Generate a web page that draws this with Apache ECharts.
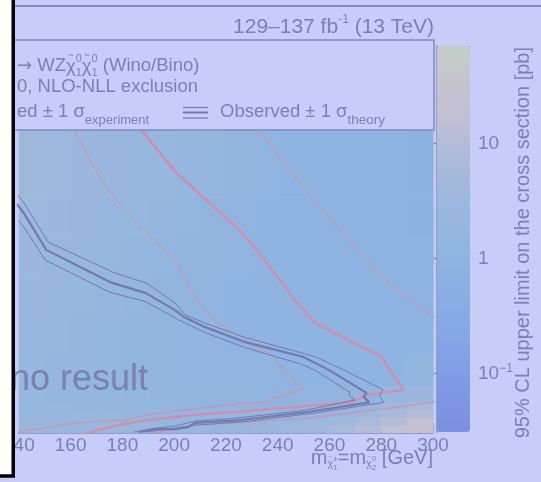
<!DOCTYPE html>
<html>
<head>
<meta charset="utf-8">
<script src="https://cdn.jsdelivr.net/npm/echarts@6/dist/echarts.min.js"></script>
<style>
  html, body { margin: 0; padding: 0; background: #c7cdf8; }
  #chart { width: 541px; height: 482px; }
</style>
</head>
<body>
<div id="chart"></div>
<script>
// Chargino–neutralino mass plane: limit map, exclusion contours and colour scale.
const massEdges = [140, 150, 160, 170, 180, 190, 200, 210, 220, 230, 240, 250, 260, 270, 280, 290, 300];
const dmEdges = [0, 1, 2, 3, 4, 6, 10, 15, 20, 25, 30, 40, 50];

// 95% CL upper limit [pb], one row per Δm band (bottom to top), one column per mass bin
const limitRows = [
  [2.8, 2.8, 2.7, 2.6, 2.5, 2.4, 2.4, 2.4, 2.5, 2.8, 3.3, 4.3, 6.5, 11, 19, 34],
  [2.5, 2.4, 2.3, 2.2, 2.0, 1.9, 1.8, 1.8, 1.9, 2.0, 2.3, 3.0, 4.0, 6.5, 11, 20],
  [2.2, 2.1, 2.0, 1.9, 1.8, 1.7, 1.6, 1.6, 1.6, 1.6, 1.7, 1.9, 2.4, 3.6, 6.0, 11],
  [2.0, 1.9, 1.8, 1.7, 1.6, 1.5, 1.4, 1.4, 1.4, 1.4, 1.4, 1.5, 1.7, 2.2, 3.4, 6.0],
  [1.9, 1.8, 1.7, 1.6, 1.5, 1.4, 1.3, 1.3, 1.3, 1.25, 1.25, 1.25, 1.3, 1.5, 1.9, 2.8],
  [1.9, 1.7, 1.6, 1.5, 1.4, 1.3, 1.25, 1.2, 1.2, 1.2, 1.15, 1.1, 1.1, 1.1, 1.15, 1.3],
  [2.1, 1.9, 1.7, 1.5, 1.4, 1.3, 1.25, 1.2, 1.15, 1.1, 1.1, 1.05, 1.0, 1.0, 1.0, 1.0],
  [2.4, 2.1, 1.9, 1.7, 1.5, 1.4, 1.3, 1.2, 1.15, 1.1, 1.05, 1.0, 0.95, 0.92, 0.9, 0.9],
  [2.8, 2.4, 2.1, 1.9, 1.7, 1.5, 1.4, 1.3, 1.2, 1.15, 1.05, 1.0, 0.95, 0.9, 0.87, 0.85],
  [3.2, 2.8, 2.4, 2.1, 1.9, 1.7, 1.5, 1.35, 1.25, 1.15, 1.1, 1.0, 0.95, 0.9, 0.85, 0.82],
  [3.6, 3.2, 2.8, 2.4, 2.1, 1.9, 1.7, 1.5, 1.35, 1.2, 1.1, 1.0, 0.95, 0.9, 0.85, 0.8],
  [3.8, 3.4, 3.0, 2.6, 2.3, 2.0, 1.8, 1.6, 1.4, 1.25, 1.15, 1.05, 1.0, 0.95, 0.9, 0.85]
];

// Expected exclusion (central and ±1σ experiment), [m, Δm]
const expCentral = [[178.2, 42.4], [188.0, 38.3], [200.5, 33.2], [224.3, 26.1], [231.9, 23.3], [246.7, 16.9],
  [254.6, 14.0], [280.0, 9.7], [288.7, 5.5], [273.6, 4.8], [268.7, 3.9], [245.9, 3.3], [224.3, 2.7],
  [208.1, 2.3], [190.3, 1.65], [180.5, 1.15], [170.3, 0.38], [166.4, 0]];
const expInner = [[154.8, 42.4], [161.5, 38.5], [169.5, 33.5], [176.7, 30.0], [189.1, 25.6], [191.8, 24.6],
  [200.5, 22.0], [209.2, 16.7], [216.8, 14.0], [238.3, 9.8], [242.2, 8.0], [249.7, 5.6], [234.5, 3.9],
  [224.3, 3.7], [208.1, 3.05], [190.3, 2.4], [181.6, 1.65], [161.5, 1.3], [152.4, 0.76], [140.0, 0.25]];
const expOuter = [[223.6, 42.4], [232.7, 38.5], [250.9, 30.8], [267.5, 24.6], [282.6, 19.2], [300.0, 14.8],
  [302.5, 14.1], null, [302.5, 4.2], [300.0, 3.9], [271.3, 2.7], [252.3, 1.9], [224.3, 1.3], [208.1, 1.0],
  [196.7, 0.25], [192.0, 0]];

// Observed exclusion (central and ±1σ theory), [m, Δm]
const obsCentral = [[138.1, 29.6], [141.9, 28.0], [150.6, 23.3], [175.2, 19.2], [189.1, 17.8], [200.5, 15.6],
  [203.6, 14.8], [211.8, 13.5], [227.0, 11.6], [249.7, 9.7], [259.9, 8.0], [274.3, 5.1], [273.2, 4.6],
  [275.4, 3.9], [252.3, 2.7], [225.9, 1.65], [208.1, 1.3], [205.5, 0.76], [200.5, 0.5], [192.9, 0.5], [186.5, 0.13]];
const obsUp = [[138.1, 30.9], [141.9, 29.3], [151.3, 24.3], [176.7, 20.4], [189.1, 19.1], [200.5, 16.5],
  [204.3, 15.0], [211.8, 14.0], [227.0, 12.2], [254.6, 9.7], [265.6, 8.0], [280.7, 5.5], [279.2, 4.8],
  [281.1, 3.9], [253.5, 2.5], [225.9, 1.4], [208.1, 1.0], [200.5, 0.64], [189.1, 0.13]];
const obsDown = [[138.1, 27.7], [141.9, 26.2], [150.2, 22.0], [175.2, 17.9], [189.1, 16.7], [201.7, 14.4],
  [211.8, 12.8], [227.0, 10.9], [249.7, 8.7], [254.3, 8.0], [267.9, 5.2], [267.5, 4.8], [269.8, 4.2],
  [250.9, 2.9], [224.3, 1.9], [208.1, 1.5], [200.5, 0.9], [192.9, 0.64], [184.6, 0.13]];

// Colour-scale ticks [pb]
const scaleMin = 0.031, scaleMax = 70;
const scaleMajor = [0.1, 1, 10];
const scaleMinor = [0.04, 0.05, 0.06, 0.07, 0.08, 0.09, 0.2, 0.3, 0.4, 0.5, 0.6, 0.7, 0.8, 0.9,
  2, 3, 4, 5, 6, 7, 8, 9, 20, 30, 40, 50, 60, 70];
const xTicks = [140, 300, 20];

const INK = '#7b80b2';
const AXIS = '#8189bb';
const OBS = '#727ab0';
const EXP = '#d98aa8';
const FONT = 'Liberation Sans';
const palette = ['#7b8fe0', '#7e98e4', '#82a0e6', '#86a8e5', '#8aaee3', '#8fb4e1',
  '#97b7de', '#a0b8db', '#b0bbd9', '#c1bfd4', '#c6c3ce', '#c3cdc6'];

const cells = [];
limitRows.forEach((row, i) => {
  row.forEach((v, j) => {
    cells.push([massEdges[j], massEdges[j + 1], dmEdges[i], dmEdges[i + 1], Math.log10(v)]);
  });
});

const measureCtx = document.createElement('canvas').getContext('2d');
function textW(t, s, f) { measureCtx.font = s + 'px "' + (f || FONT) + '"'; return measureCtx.measureText(t).width; }
// parts: [text, size, dy, advances, dx, family]
function textRun(x0, yc, parts, alignRight, z) {
  let total = 0;
  parts.forEach(p => { if (p[3] !== false) total += textW(p[0], p[1], p[5]); });
  let x = alignRight ? x0 - total : x0;
  const out = [];
  parts.forEach(p => {
    out.push({
      type: 'text', x: x + (p[4] || 0), y: yc + (p[2] || 0), z: z || 120, silent: true,
      style: { text: p[0], fontSize: p[1], fontFamily: p[5] || FONT, fill: INK,
        textAlign: 'left', textVerticalAlign: 'middle', align: 'left', verticalAlign: 'middle' }
    });
    if (p[3] !== false) x += textW(p[0], p[1], p[5]);
  });
  return out;
}
function chiParts(size, sup, sub, subSize) {
  const cw = textW('χ', size);
  const tw = textW('~', size * 0.6);
  return [['χ', size, 1], ['~', size * 0.6, -size * 0.55, false, -cw + (cw - tw) / 2],
    [sup, subSize, -size * 0.38, false], [sub, subSize, size * 0.4]];
}

function lineSeries(data, color, width) {
  return { type: 'line', data: data, xAxisIndex: 0, yAxisIndex: 0, showSymbol: false, symbol: 'none',
    silent: true, animation: false, connectNulls: false, z: 5,
    lineStyle: { color: color, width: width } };
}

const chart = echarts.init(document.getElementById('chart'), null, { renderer: 'canvas' });

const graphics = [];
// top rule and frame of the legend box
graphics.push({ type: 'line', z: 110, silent: true, shape: { x1: 0, y1: 6, x2: 541, y2: 6 }, style: { stroke: AXIS, lineWidth: 2 } });
graphics.push({ type: 'rect', z: 110, silent: true, shape: { x: 0, y: 40, width: 434, height: 90 }, style: { fill: '#c7cdf8', stroke: AXIS, lineWidth: 1.5 } });
// luminosity label
textRun(434, 27, [['129–137 fb', 21, 0], ['-1', 12, -7], [' (13 TeV)', 21, 0]], true).forEach(e => graphics.push(e));
// legend lines
textRun(17, 66, [['→', 18, 0, true, 0, 'DejaVu Sans'], [' WZ', 18.5, 0]].concat(chiParts(18.5, '0', '1', 11), chiParts(18.5, '0', '1', 11), [[' (Wino/Bino)', 18.5, 0]])).forEach(e => graphics.push(e));
textRun(17, 87, [['0, NLO-NLL exclusion', 18.5, 0]]).forEach(e => graphics.push(e));
textRun(17, 112, [['ed ± 1 σ', 18.5, 0], ['experiment', 13, 8]]).forEach(e => graphics.push(e));
textRun(220, 112, [['Observed ± 1 σ', 18.5, 0], ['theory', 13.5, 8]]).forEach(e => graphics.push(e));
[[107.5, 1.2], [112.5, 2], [118, 1.2]].forEach(l => graphics.push({ type: 'line', z: 120, silent: true,
  shape: { x1: 183, y1: l[0], x2: 208, y2: l[0] }, style: { stroke: OBS, lineWidth: l[1] } }));
// region note
graphics.push({ type: 'text', z: 60, silent: true, x: 10, y: 380,
  style: { text: 'no result', fontSize: 36, fontFamily: FONT, fill: INK, textAlign: 'left', textVerticalAlign: 'middle', align: 'left', verticalAlign: 'middle' } });
// x-axis title
textRun(433, 458, [['m', 20, 0]].concat(chiParts(11, '±', '1', 8).map(p => [p[0], p[1], p[2] + 5, p[3], p[4]]),
  [['=m', 20, 0]], chiParts(11, '0', '2', 8).map(p => [p[0], p[1], p[2] + 5, p[3], p[4]]), [[' [GeV]', 20, 0]]), true).forEach(e => graphics.push(e));
// colour-scale title
graphics.push({ type: 'text', z: 120, silent: true, x: 523, y: 47, rotation: Math.PI / 2,
  style: { text: '95% CL upper limit on the cross section [pb]', fontSize: 20, fontFamily: FONT, fill: INK,
    textAlign: 'right', textVerticalAlign: 'middle', align: 'right', verticalAlign: 'middle' } });
// panel cut-off
graphics.push({ type: 'rect', z: 300, silent: true, shape: { x: -20, y: -20, width: 33.25, height: 496 },
  style: { fill: '#ffffff', stroke: '#000000', lineWidth: 3.5 } });

const lg = v => Math.log10(v);

chart.setOption({
  animation: false,
  backgroundColor: '#c7cdf8',
  grid: [
    { left: 10, right: 108, top: 40, bottom: 49, containLabel: false },
    { left: 437, top: 46, width: 33, height: 386, containLabel: false }
  ],
  xAxis: [
    { type: 'value', gridIndex: 0, min: xTicks[0], max: xTicks[1], interval: xTicks[2],
      axisLine: { lineStyle: { color: AXIS, width: 1.5 } },
      axisTick: { inside: true, length: 10, lineStyle: { color: AXIS, width: 1.2 } },
      minorTick: { show: true, splitNumber: 4, length: 5, lineStyle: { color: AXIS, width: 1 } },
      axisLabel: { fontSize: 19, fontFamily: FONT, color: INK, margin: 3 },
      splitLine: { show: false } },
    { type: 'value', gridIndex: 1, min: 0, max: 1, show: false }
  ],
  yAxis: [
    { type: 'value', gridIndex: 0, min: 0, max: 50, show: false },
    { type: 'value', gridIndex: 1, min: lg(scaleMin), max: lg(scaleMax), position: 'right',
      axisLine: { show: true, lineStyle: { color: AXIS, width: 1.5 } },
      axisTick: { show: true, inside: true, length: 15, customValues: scaleMajor.map(lg), lineStyle: { color: AXIS, width: 1.2 } },
      axisLabel: { show: true, customValues: scaleMajor.map(lg), margin: 8, fontFamily: FONT, color: INK,
        formatter: v => { const p = Math.round(v); return p === 0 ? '{b|1}' : (p === 1 ? '{b|10}' : '{b|10}{s|−1}'); },
        rich: { b: { fontSize: 19, fontFamily: FONT, color: INK }, s: { fontSize: 12, fontFamily: FONT, color: INK, verticalAlign: 'top', padding: [0, 0, 10, 0] } } },
      splitLine: { show: false } },
    { type: 'value', gridIndex: 1, min: lg(scaleMin), max: lg(scaleMax), position: 'right',
      axisLine: { show: false },
      axisTick: { show: true, inside: true, length: 8, customValues: scaleMinor.map(lg), lineStyle: { color: AXIS, width: 1 } },
      axisLabel: { show: false }, splitLine: { show: false } }
  ],
  visualMap: {
    type: 'continuous', min: lg(scaleMin), max: lg(scaleMax), dimension: 4, seriesIndex: 0,
    inRange: { color: palette }, left: 437, top: 46, itemWidth: 33, itemHeight: 386,
    text: null, calculable: false, hoverLink: false, padding: 0, showLabel: false, realtime: false
  },
  series: [
    { type: 'custom', xAxisIndex: 0, yAxisIndex: 0, data: cells, encode: { x: [0, 1], y: [2, 3] }, silent: true, z: 1, clip: true,
      renderItem: (params, api) => {
        const a = api.coord([api.value(0), api.value(3)]);
        const b = api.coord([api.value(1), api.value(2)]);
        return { type: 'rect', shape: { x: a[0], y: a[1], width: b[0] - a[0] + 0.6, height: b[1] - a[1] + 0.6 },
          style: { fill: api.visual('color') } };
      } },
    lineSeries(expOuter, EXP, 1),
    lineSeries(expInner, EXP, 1),
    lineSeries(expCentral, EXP, 2.2),
    lineSeries(obsUp, OBS, 1),
    lineSeries(obsDown, OBS, 1),
    lineSeries(obsCentral, OBS, 2.2)
  ],
  graphic: graphics
});
</script>
</body>
</html>
